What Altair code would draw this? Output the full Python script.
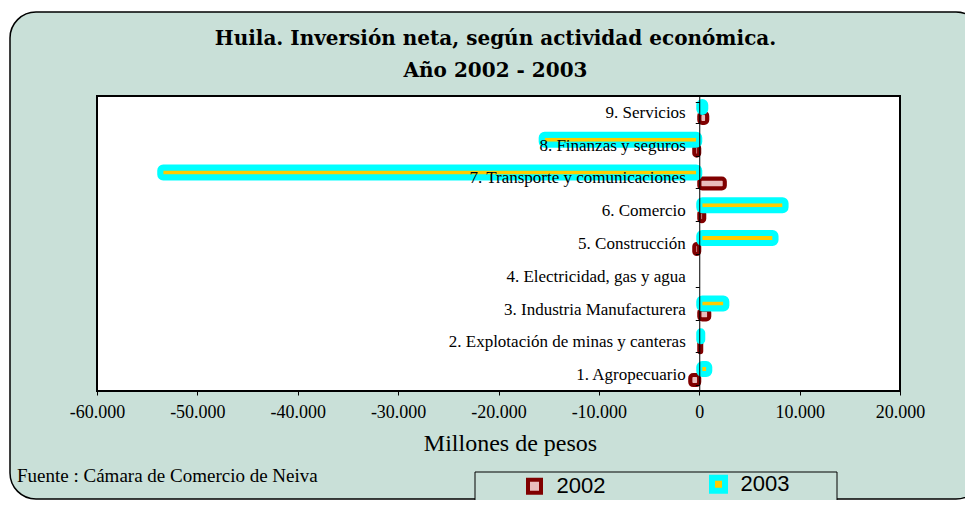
import altair as alt
import pandas as pd

categories = [
    "1. Agropecuario",
    "2. Explotación de minas y canteras",
    "3. Industria Manufacturera",
    "4. Electricidad, gas y agua",
    "5. Construcción",
    "6. Comercio",
    "7. Transporte y comunicaciones",
    "8. Finanzas y seguros",
    "9. Servicios",
]
years = ["2002", "2003"]
v2002 = [-900, 200, 1000, 0, -500, 500, 2550, -500, 800]
v2003 = [1000, 300, 2700, 0, 7600, 8600, -53700, -15700, 600]
x_ticks = [-60000, -50000, -40000, -30000, -20000, -10000, 0, 10000, 20000]
title_lines = ["Huila. Inversión neta, según actividad económica.", "Año 2002 - 2003"]
source_note = "Fuente :  Cámara de Comercio de Neiva"

rows = []
for c, v in zip(categories, v2002):
    rows.append({"cat": c, "year": "2002", "value": v})
for c, v in zip(categories, v2003):
    rows.append({"cat": c, "year": "2003", "value": v})
df = pd.DataFrame(rows)
dummy = pd.DataFrame({"a": [0]})

W, H = 803, 295
GREEN = "#c9e0d8"
SERIF = "Liberation Serif"

frame = alt.Chart(dummy).mark_rect(
    fill=GREEN, stroke="black", strokeWidth=1.5, cornerRadius=26
).encode(x=alt.value(-87), x2=alt.value(885), y=alt.value(-84), y2=alt.value(403))

plotbg = alt.Chart(dummy).mark_rect(
    fill="white", stroke="black", strokeWidth=2
).encode(x=alt.value(0), x2=alt.value(W), y=alt.value(0), y2=alt.value(H))

legbox = alt.Chart(dummy).mark_rect(
    fill=GREEN, stroke="black", strokeWidth=1
).encode(x=alt.value(378), x2=alt.value(740), y=alt.value(376), y2=alt.value(430))

title1 = alt.Chart(dummy).mark_text(
    text=title_lines[0], align="center", baseline="middle", font="DejaVu Serif",
    fontSize=20, fontWeight="bold", color="black",
).encode(x=alt.value(398.5), y=alt.value(-57))
title2 = alt.Chart(dummy).mark_text(
    text=title_lines[1], align="center", baseline="middle", font="DejaVu Serif",
    fontSize=20, fontWeight="bold", color="black",
).encode(x=alt.value(398.5), y=alt.value(-25))

leg = alt.Legend(
    title=None, orient="none", legendX=426.5, legendY=377, direction="horizontal",
    columns=2, columnPadding=94, symbolType="square", symbolSize=169,
    symbolStrokeWidth=4, labelFont="Liberation Sans", labelFontSize=22,
    labelOffset=11, labelColor="black", zindex=1, padding=0,
)

bars = alt.Chart(df).transform_filter("datum.value != 0").mark_bar(cornerRadius=3).encode(
    y=alt.Y(
        "cat:N",
        sort=categories[::-1],
        scale=alt.Scale(domain=categories[::-1], paddingInner=0.36, paddingOuter=0.18),
        axis=alt.Axis(
            title=None, orient="left", offset=-(W * 60000 / 80000), domain=True,
            domainColor="black", domainWidth=1, ticks=True, tickBand="extent",
            tickSize=4, tickColor="black", labelFont=SERIF, labelFontSize=17,
            labelColor="black", labelPadding=10, labelLimit=400, grid=False, zindex=1,
        ),
    ),
    yOffset=alt.YOffset(
        "year:N", sort=["2003", "2002"],
        scale=alt.Scale(domain=["2003", "2002"], paddingInner=0.09, paddingOuter=0),
    ),
    x=alt.X(
        "value:Q",
        scale=alt.Scale(domain=[-60000, 20000], nice=False, zero=False),
        axis=alt.Axis(
            values=x_ticks,
            labelExpr="(datum.value < 0 ? '-' : '') + replace(format(abs(datum.value), ','), ',', '.')",
            labelFont=SERIF, labelFontSize=18, labelColor="black", labelPadding=8,
            labelFlush=False, labelOverlap=False,
            tickSize=4, tickColor="black", domain=False, grid=False,
            title="Millones de pesos", titleFont=SERIF, titleFontSize=24,
            titleFontWeight="normal", titleColor="black", titleX=413, titleY=52,
            titleBaseline="middle", zindex=1,
        ),
    ),
    fill=alt.Fill("year:N", scale=alt.Scale(domain=years, range=["#e9bcbc", "#ffcc00"]), legend=leg),
    stroke=alt.Stroke("year:N", scale=alt.Scale(domain=years, range=["#800000", "#00ffff"]), legend=leg),
    strokeWidth=alt.StrokeWidth("year:N", scale=alt.Scale(domain=years, range=[4, 6]), legend=None),
)

fuente = alt.Chart(dummy).mark_text(
    text=source_note, align="left", baseline="middle",
    font=SERIF, fontSize=19, color="black",
).encode(x=alt.value(-80), y=alt.value(380))

chart = alt.layer(frame, plotbg, legbox, bars, fuente, title1, title2).properties(
    width=W, height=H,
    autosize=alt.AutoSizeParams(type="none"),
    padding={"left": 89, "top": 88, "right": 65, "bottom": 109},
    background="white",
).configure_view(stroke=None)

chart.save("out.html", embed_options={"renderer": "svg", "actions": False})
